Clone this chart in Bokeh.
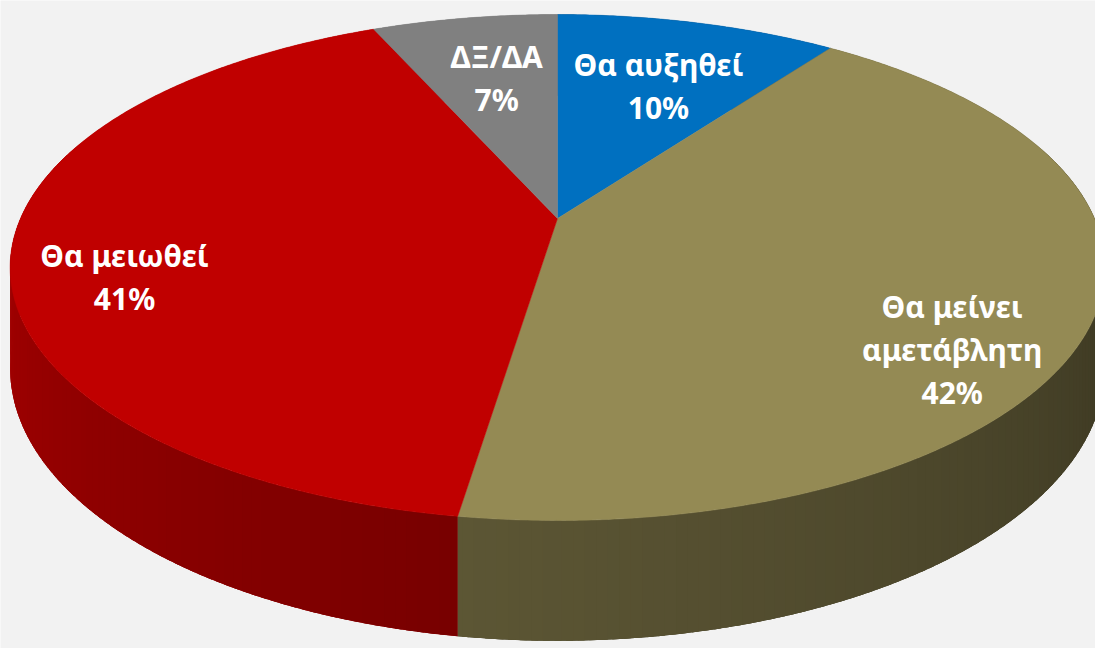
import numpy as np
from bokeh.plotting import figure
from bokeh.models import Range1d, ColumnDataSource
from bokeh.embed import file_html
from bokeh.resources import INLINE
from bokeh.core.properties import value

# ---------------- data ----------------
categories = ["Θα αυξηθεί", "Θα μείνει\nαμετάβλητη", "Θα μειωθεί", "ΔΞ/ΔΑ"]
values = [10.0, 42.4, 41.0, 6.6]          # shares
labels_pct = ["10%", "42%", "41%", "7%"]  # printed labels
colors = ["#0070C0", "#948A54", "#C00000", "#808080"]

# ---------------- layout / style ----------------
CX, CY = 557.0, 218.0          # projected pie centre (px)
AX, AY = 537.0, 243.5          # horizontal / depth radii
PERSP = 0.1937                 # perspective strength
DEPTH = 97.0                   # pie thickness
label_r = [0.646, 0.825, 0.804, 0.664]
label_dtheta = [1.0, 13.9, -9.1, 0.8]
LINE_H = 43
BG = "#F2F2F2"
W, H = 1095, 648


def project(theta_deg, r, z):
    t = np.radians(theta_deg)
    X = r * np.sin(t)
    Y = -r * np.cos(t)
    w = 1 - PERSP * Y
    return CX + AX * X / w, CY + (AY * Y + DEPTH * z) / w


def shade(hex_color, f):
    h = hex_color.lstrip("#")
    rgb = [int(h[i:i + 2], 16) for i in (0, 2, 4)]
    return "#%02x%02x%02x" % tuple(max(0, min(255, int(round(c * f)))) for c in rgb)


def shade_factor(theta):
    return float(np.interp(theta, [90, 187, 270, 290], [0.38, 0.62, 0.87, 0.9]))


total = float(sum(values))
cum = np.concatenate([[0.0], np.cumsum(values)]) / total * 360.0

p = figure(width=W, height=H, x_range=Range1d(0, W), y_range=Range1d(H, 0),
           output_backend="svg", toolbar_location=None, min_border=0,
           x_axis_type=None, y_axis_type=None,
           background_fill_color=BG, border_fill_color=BG, outline_line_color=None)
p.grid.visible = False

# ---- side: base polygons (underlay, mid shade) ----
bxs, bys, bcs = [], [], []
for i, v in enumerate(values):
    a0, a1 = cum[i], cum[i + 1]
    ang = np.linspace(a0, a1, max(3, int((a1 - a0) / 0.5)))
    xt, yt = project(ang, 1.0, 0.0)
    xb, yb = project(ang[::-1], 1.0, 1.0)
    bxs.append(list(xt) + list(xb))
    bys.append(list(yt) + list(yb))
    bcs.append(shade(colors[i], shade_factor(0.5 * (a0 + a1))))
p.patches(xs=bxs, ys=bys, fill_color=bcs, line_color=None)

# ---- side strips (painter's order, overlapping to hide seams) ----
strips = []
for i, v in enumerate(values):
    a0, a1 = cum[i], cum[i + 1]
    n = max(2, int(np.ceil((a1 - a0) / 1.0)))
    edges = np.linspace(a0, a1, n + 1)
    for s0, s1 in zip(edges[:-1], edges[1:]):
        mid = 0.5 * (s0 + s1)
        depth_key = -np.cos(np.radians(mid))
        if depth_key < -0.3:
            continue
        c = shade(colors[i], shade_factor(mid))
        e1 = min(s1 + 0.6, a1)
        xt0, yt0 = project(s0, 1.0, 0.0)
        xt1, yt1 = project(e1, 1.0, 0.0)
        xb1, yb1 = project(e1, 1.0, 1.0)
        xb0, yb0 = project(s0, 1.0, 1.0)
        strips.append((depth_key, [xt0, xt1, xb1, xb0], [yt0, yt1, yb1, yb0], c))
strips.sort(key=lambda s: s[0])
p.patches(xs=[s[1] for s in strips], ys=[s[2] for s in strips],
          fill_color=[s[3] for s in strips], line_color=None)

# ---- top face ----
txs, tys = [], []
cx0, cy0 = project(0.0, 0.0, 0.0)
for i, v in enumerate(values):
    a0, a1 = cum[i], cum[i + 1]
    ang = np.linspace(a0, a1, max(3, int((a1 - a0) / 0.5)))
    ex, ey = project(ang, 1.0, 0.0)
    txs.append([float(cx0)] + list(ex))
    tys.append([float(cy0)] + list(ey))
p.patches(xs=txs, ys=tys, fill_color=colors, line_color=colors, line_width=0.5)

# ---- labels ----
lx, ly, lt, lo = [], [], [], []
for i, (cat, pct) in enumerate(zip(categories, labels_pct)):
    mid = 0.5 * (cum[i] + cum[i + 1]) + label_dtheta[i]
    x0, y0 = project(mid, label_r[i], 0.0)
    lines = cat.split("\n") + [pct]
    n = len(lines)
    for k, line in enumerate(lines):
        lx.append(float(x0))
        ly.append(float(y0))
        lt.append(line)
        lo.append((k - (n - 1) / 2.0) * LINE_H)
src = ColumnDataSource(dict(x=lx, y=ly, text=lt, yo=lo))
p.text(x="x", y="y", text="text", y_offset="yo", source=src,
       text_font=value("Noto Sans"), text_font_style="bold", text_font_size="30px",
       text_color="white", text_align="center", text_baseline="middle")

open("out.html", "w").write(file_html(p, INLINE))
